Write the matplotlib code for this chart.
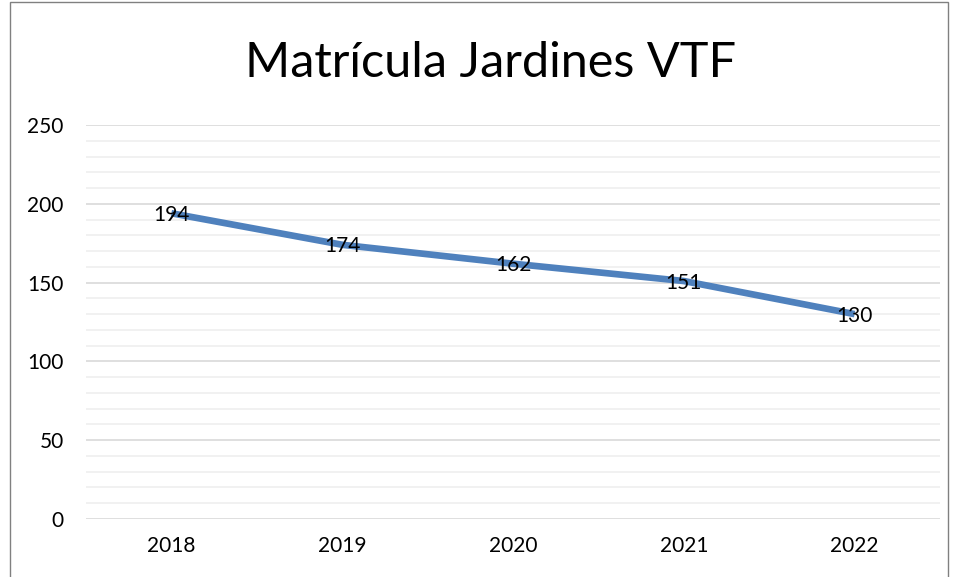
import matplotlib.pyplot as plt
from matplotlib.patches import Rectangle
from matplotlib.ticker import MultipleLocator

years = ["2018", "2019", "2020", "2021", "2022"]
matricula = [194, 174, 162, 151, 130]

plt.rcParams['font.family'] = ['Lato', 'DejaVu Sans']

fig = plt.figure(figsize=(9.58, 5.77), dpi=100)
ax = fig.add_axes([86/958, 1 - 519/577, (940 - 86)/958, (519 - 125)/577])

x = list(range(len(years)))
ax.plot(x, matricula, color='#4F81BD', linewidth=4.8, solid_capstyle='butt', zorder=3)
for xi, v in zip(x, matricula):
    ax.text(xi, v - 1, str(v), ha='center', va='center', fontsize=15, color='black', zorder=4)

ax.set_xlim(-0.5, len(years) - 0.5)
ax.set_ylim(0, 250)
ax.set_xticks(x)
ax.set_xticklabels(years)
ax.yaxis.set_major_locator(MultipleLocator(50))
ax.yaxis.set_minor_locator(MultipleLocator(10))
ax.grid(axis='y', which='major', color='#d9d9d9', linewidth=1.2)
ax.grid(axis='y', which='minor', color='#efefef', linewidth=1.2)
ax.set_axisbelow(True)
for s in ax.spines.values():
    s.set_visible(False)
ax.tick_params(axis='both', which='both', length=0, labelsize=15)
ax.tick_params(axis='y', pad=16)
ax.tick_params(axis='x', pad=12)

fig.text(491/958, 1 - 63/577, "Matrícula Jardines VTF", ha='center', va='center', fontsize=35)

fig.patches.append(Rectangle((10/958, -0.05), (948 - 10)/958, 1.05 - 1.5/577,
                             transform=fig.transFigure, fill=False,
                             edgecolor='#808080', linewidth=1))

fig.savefig("out.png", dpi=100)
